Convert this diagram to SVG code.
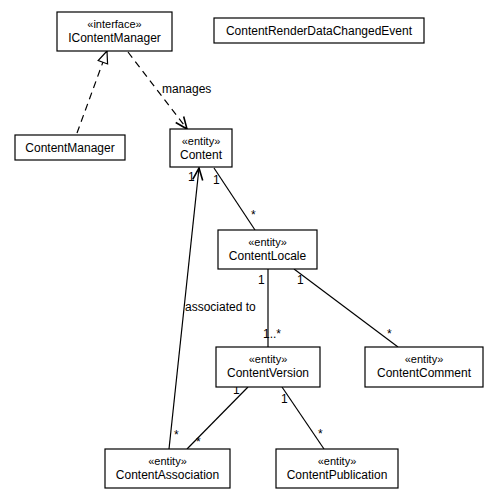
<svg xmlns="http://www.w3.org/2000/svg" width="499" height="499" viewBox="0 0 499 499">
<style>
.box{fill:#fff;stroke:#000;stroke-width:1.2}
.sh{fill:none;stroke:#999;stroke-width:1}
text{font-family:"Liberation Sans",Arial,sans-serif;font-size:12px;fill:#000}
.st{font-size:11px}
.c{text-anchor:middle}
.ln{stroke:#000;stroke-width:1.2;fill:none}
.dash{stroke-dasharray:7,5}
</style>
<defs>
<marker id="tri" markerUnits="userSpaceOnUse" viewBox="-14 -7 15 14" markerWidth="15" markerHeight="14" refX="0" refY="0" orient="auto">
<path d="M0,0 L-12,-5 L-12,5 Z" fill="#fff" stroke="#000" stroke-width="1.2"/>
</marker>
<marker id="open" markerUnits="userSpaceOnUse" viewBox="-14 -7 15 14" markerWidth="15" markerHeight="14" refX="0" refY="0" orient="auto">
<path d="M-12,-5 L0,0 L-12,5" fill="none" stroke="#000" stroke-width="1.6"/>
</marker>
</defs>
<rect width="499" height="499" fill="#fff"/>
<g id="connectors">
<line class="ln dash" x1="77" y1="133" x2="107" y2="51" marker-end="url(#tri)"/>
<line class="ln dash" x1="128" y1="52" x2="187" y2="129" marker-end="url(#open)"/>
<text x="162" y="93">manages</text>
<line class="ln" x1="169" y1="449" x2="199" y2="168" marker-end="url(#open)"/>
<text x="185" y="311">associated to</text>
<text x="188" y="181">1</text>
<text x="174" y="439">*</text>
<line class="ln" x1="214" y1="168" x2="255" y2="230"/>
<text x="213" y="184">1</text>
<text x="251" y="219">*</text>
<line class="ln" x1="268" y1="269" x2="268" y2="347"/>
<text x="258" y="284">1</text>
<text x="263" y="338">1..*</text>
<line class="ln" x1="294" y1="269" x2="398" y2="347"/>
<text x="297" y="284">1</text>
<text x="387" y="338">*</text>
<line class="ln" x1="248" y1="387" x2="187" y2="449"/>
<text x="233" y="394">1</text>
<text x="196" y="446">*</text>
<line class="ln" x1="282" y1="387" x2="324" y2="449"/>
<text x="281" y="403">1</text>
<text x="318" y="438">*</text>
</g>
<g id="IContentManager">
<rect class="box" x="57" y="12" width="115" height="39"/>
<text class="st c" x="114.5" y="28">«interface»</text>
<text class="c" x="114.5" y="42">IContentManager</text>
</g>
<g id="ContentRenderDataChangedEvent">
<rect class="box" x="214" y="18" width="210" height="25"/>
<text class="c" x="319" y="35">ContentRenderDataChangedEvent</text>
</g>
<g id="ContentManager">
<rect class="box" x="15" y="135" width="110" height="25"/>
<text class="c" x="70" y="152">ContentManager</text>
</g>
<g id="Content">
<rect class="box" x="170" y="129" width="62" height="38"/>
<text class="st c" x="201" y="145">«entity»</text>
<text class="c" x="201" y="159">Content</text>
</g>
<g id="ContentLocale">
<rect class="box" x="218" y="230" width="99" height="39"/>
<text class="st c" x="267.5" y="246">«entity»</text>
<text class="c" x="267.5" y="260">ContentLocale</text>
</g>
<g id="ContentVersion">
<rect class="box" x="216" y="347" width="104" height="40"/>
<text class="st c" x="268" y="363">«entity»</text>
<text class="c" x="268" y="377">ContentVersion</text>
</g>
<g id="ContentComment">
<rect class="box" x="365" y="347" width="118" height="40"/>
<text class="st c" x="424" y="363">«entity»</text>
<text class="c" x="424" y="377">ContentComment</text>
</g>
<g id="ContentAssociation">
<rect class="box" x="105" y="449" width="125" height="39"/>
<text class="st c" x="167.5" y="465">«entity»</text>
<text class="c" x="167.5" y="479">ContentAssociation</text>
</g>
<g id="ContentPublication">
<rect class="box" x="276" y="449" width="122" height="39"/>
<text class="st c" x="337" y="465">«entity»</text>
<text class="c" x="337" y="479">ContentPublication</text>
</g>
</svg>
